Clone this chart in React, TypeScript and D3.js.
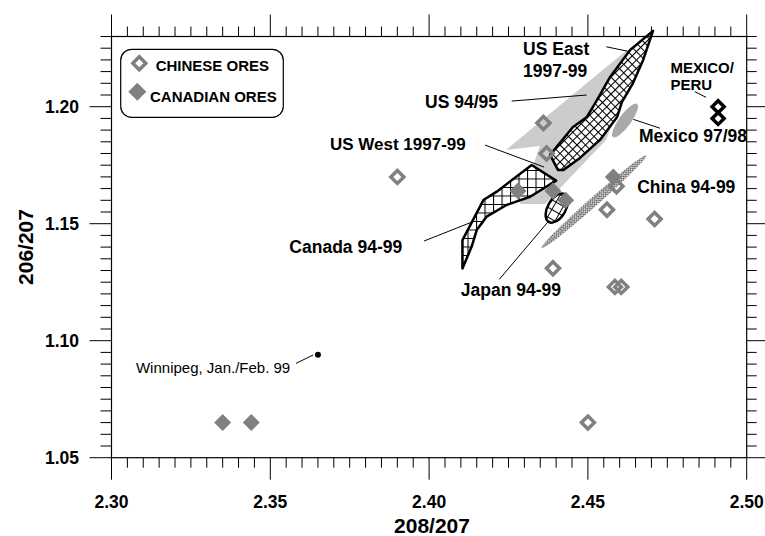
import React from "react";
import * as d3 from "d3";

// ---- data ----
const X_DOMAIN = [2.3, 2.5];
const Y_DOMAIN = [1.05, 1.23];
const X_TICK_LABELS = [2.3, 2.35, 2.4, 2.45, 2.5];
const Y_TICK_LABELS = [1.05, 1.1, 1.15, 1.2];

const CHINESE_ORES: [number, number][] = [
  [2.39, 1.17], [2.436, 1.193], [2.437, 1.18], [2.456, 1.156], [2.439, 1.131],
  [2.471, 1.152], [2.459, 1.166], [2.4585, 1.123], [2.4605, 1.123], [2.45, 1.065],
];
const CANADIAN_ORES: [number, number][] = [
  [2.335, 1.065], [2.344, 1.065], [2.428, 1.164], [2.439, 1.164], [2.443, 1.16], [2.458, 1.17],
];
const MEXICO_PERU: [number, number][] = [[2.491, 1.2], [2.491, 1.195]];
const WINNIPEG: [number, number] = [2.365, 1.094];

const US_EAST: [number, number][] = [
  [2.4705, 1.2324], [2.4674, 1.22], [2.4642, 1.2101], [2.4607, 1.202], [2.4592, 1.1956],
  [2.4538, 1.1858], [2.4475, 1.1781], [2.4422, 1.1729], [2.4406, 1.1729], [2.4381, 1.1794],
  [2.4453, 1.1913], [2.4497, 1.1956], [2.4529, 1.2029], [2.457, 1.2127], [2.4633, 1.2242],
];
const US_WEST: [number, number][] = [
  [2.4323, 1.1751], [2.44, 1.1684], [2.4318, 1.1615], [2.4244, 1.158], [2.4181, 1.153],
  [2.415, 1.1473], [2.4134, 1.1402], [2.4105, 1.1309], [2.4105, 1.143], [2.4171, 1.1601],
  [2.4213, 1.1637],
];
const US_9495: [number, number][] = [
  [2.4623, 1.2242], [2.4242, 1.1815], [2.4349, 1.1832], [2.4286, 1.1584],
  [2.4365, 1.1584], [2.4557, 1.1858], [2.4607, 1.2029],
];
// ellipse centres
const MEXICO_9798 = { cx: 2.4617, cy: 1.1941 };
const CHINA_9499 = { cx: 2.4519, cy: 1.1594 };
const JAPAN_9499 = { cx: 2.4402, cy: 1.1567 };

type Ann = { text: string; x: number; y: number; anchor: string; size: number; bold: boolean };
const LABELS: Ann[] = [
  { text: "US East", x: 2.4296, y: 1.2221, anchor: "start", size: 17.5, bold: true },
  { text: "1997-99", x: 2.4296, y: 1.2127, anchor: "start", size: 17.5, bold: true },
  { text: "US 94/95", x: 2.4217, y: 1.1994, anchor: "end", size: 17.5, bold: true },
  { text: "US West 1997-99", x: 2.3688, y: 1.1815, anchor: "start", size: 17, bold: true },
  { text: "Mexico 97/98", x: 2.4661, y: 1.185, anchor: "start", size: 17.5, bold: true },
  { text: "MEXICO/", x: 2.476, y: 1.2144, anchor: "start", size: 15, bold: true },
  { text: "PERU", x: 2.476, y: 1.2071, anchor: "start", size: 15, bold: true },
  { text: "China 94-99", x: 2.4655, y: 1.1631, anchor: "start", size: 17.5, bold: true },
  { text: "Canada 94-99", x: 2.356, y: 1.1375, anchor: "start", size: 17.5, bold: true },
  { text: "Japan 94-99", x: 2.41, y: 1.1191, anchor: "start", size: 17.5, bold: true },
  { text: "Winnipeg, Jan./Feb. 99", x: 2.3077, y: 1.0862, anchor: "start", size: 15, bold: false },
];
const LEADERS: [number, number, number, number][] = [
  [2.4558, 1.2256, 2.4633, 1.2235],
  [2.426, 1.2024, 2.4496, 1.205],
  [2.4176, 1.1836, 2.4362, 1.1742],
  [2.4643, 1.1946, 2.4727, 1.1908],
  [2.4837, 1.2064, 2.4872, 1.204],
  [2.3984, 1.1426, 2.4135, 1.1507],
  [2.4221, 1.1262, 2.4375, 1.1509],
  [2.3581, 1.0903, 2.3635, 1.0939],
];
const LEGEND = ["CHINESE ORES", "CANADIAN ORES"];

const FONT = "'Liberation Sans', Arial, Helvetica, sans-serif";
const GRAY = "#808080";

const diamond = (h: number) => `M0,${-h}L${h},0L0,${h}L${-h},0Z`;

export default function App() {
  const L = 111.5, R = 746.7, T = 36.5, B = 457.7;
  const x = d3.scaleLinear().domain(X_DOMAIN).range([L, R]);
  const y = d3.scaleLinear().domain(Y_DOMAIN).range([B, T]);
  const line = d3.line<[number, number]>().x((d) => x(d[0])).y((d) => y(d[1]));
  const fmt = d3.format(".2f");

  const xTicks = d3.range(0, 41).map((i) => ({ v: X_DOMAIN[0] + i * 0.005, major: i % 10 === 0 }));
  const yTicks = d3.range(0, 37).map((i) => ({ v: Y_DOMAIN[0] + i * 0.005, major: i % 10 === 0 }));

  return (
    <svg width={765} height={536} style={{ position: "absolute", left: 0, top: 0, background: "#fff" }} fontFamily={FONT}>
      <defs>
        <pattern id="diag" width={6} height={6} patternUnits="userSpaceOnUse" patternTransform="rotate(45)">
          <rect width={6} height={6} fill="#fff" />
          <path d="M0,0.5H6M0.5,0V6" stroke="#000" strokeWidth={1.1} />
        </pattern>
        <pattern id="grid" width={8.5} height={8.5} patternUnits="userSpaceOnUse">
          <rect width={8.5} height={8.5} fill="#fff" />
          <path d="M0,0.5H8.5M0.5,0V8.5" stroke="#000" strokeWidth={1.1} />
        </pattern>
        <pattern id="dots" width={3} height={3} patternUnits="userSpaceOnUse">
          <rect width={3} height={3} fill="#fff" />
          <circle cx={1.5} cy={1.5} r={1} fill="none" stroke="#000" strokeWidth={0.7} />
        </pattern>
      </defs>

      {/* regions */}
      <path d={line(US_9495) + "Z"} fill="#cccccc" />
      <ellipse cx={x(MEXICO_9798.cx)} cy={y(MEXICO_9798.cy)} rx={20.5} ry={6} fill="#a9a9a9"
        transform={`rotate(-54 ${x(MEXICO_9798.cx)} ${y(MEXICO_9798.cy)})`} />
      <ellipse cx={x(CHINA_9499.cx)} cy={y(CHINA_9499.cy)} rx={70} ry={4.5} fill="url(#dots)"
        transform={`rotate(-41.5 ${x(CHINA_9499.cx)} ${y(CHINA_9499.cy)})`} />
      <path d={line(US_EAST) + "Z"} fill="url(#diag)" stroke="#000" strokeWidth={2.5} strokeLinejoin="round" />
      <path d={line(US_WEST) + "Z"} fill="url(#grid)" stroke="#000" strokeWidth={2.5} strokeLinejoin="round" />
      <ellipse cx={x(JAPAN_9499.cx)} cy={y(JAPAN_9499.cy)} rx={16} ry={9} fill="url(#grid)" stroke="#000" strokeWidth={2.5}
        transform={`rotate(-60 ${x(JAPAN_9499.cx)} ${y(JAPAN_9499.cy)})`} />

      {/* points */}
      {CHINESE_ORES.map((d, i) => (
        <path key={"c" + i} d={diamond(6.5)} transform={`translate(${x(d[0])},${y(d[1])})`} fill="none" stroke={GRAY} strokeWidth={3.5} />
      ))}
      {CANADIAN_ORES.map((d, i) => (
        <path key={"k" + i} d={diamond(8.5)} transform={`translate(${x(d[0])},${y(d[1])})`} fill={GRAY} />
      ))}
      {MEXICO_PERU.map((d, i) => (
        <path key={"m" + i} d={diamond(6)} transform={`translate(${x(d[0])},${y(d[1])})`} fill="none" stroke="#000" strokeWidth={3.5} />
      ))}
      <circle cx={x(WINNIPEG[0])} cy={y(WINNIPEG[1])} r={3} fill="#000" />

      {/* leaders */}
      {LEADERS.map((l, i) => (
        <line key={"l" + i} x1={x(l[0])} y1={y(l[1])} x2={x(l[2])} y2={y(l[3])} stroke="#000" strokeWidth={1} />
      ))}
      {LABELS.map((a, i) => (
        <text key={"t" + i} x={x(a.x)} y={y(a.y)} textAnchor={a.anchor} fontSize={a.size} fontWeight={a.bold ? "bold" : "normal"}>
          {a.text}
        </text>
      ))}

      {/* frame */}
      <rect x={L} y={T} width={R - L} height={B - T} fill="none" stroke="#000" strokeWidth={1.2} />
      {xTicks.map((t, i) => (
        <g key={"xt" + i}>
          <line x1={x(t.v)} x2={x(t.v)} y1={B} y2={B + (t.major ? 22 : 10)} stroke="#000" />
          <line x1={x(t.v)} x2={x(t.v)} y1={T} y2={T - (t.major ? 22 : 10)} stroke="#000" />
        </g>
      ))}
      {yTicks.map((t, i) => (
        <g key={"yt" + i}>
          <line y1={y(t.v)} y2={y(t.v)} x1={L} x2={L - (t.major ? 22 : 11)} stroke="#000" />
          <line y1={y(t.v)} y2={y(t.v)} x1={R} x2={R + (t.major ? 22 : 10)} stroke="#000" />
        </g>
      ))}
      {X_TICK_LABELS.map((v) => (
        <text key={"xl" + v} x={x(v)} y={507.7} textAnchor="middle" fontSize={17.5} fontWeight="bold">{fmt(v)}</text>
      ))}
      {Y_TICK_LABELS.map((v) => (
        <text key={"yl" + v} x={79} y={y(v) + 6.2} textAnchor="end" fontSize={17.5} fontWeight="bold">{fmt(v)}</text>
      ))}
      <text x={432} y={533} textAnchor="middle" fontSize={21} fontWeight="bold">208/207</text>
      <text transform="translate(33,247) rotate(-90)" textAnchor="middle" fontSize={21} fontWeight="bold">206/207</text>

      {/* legend */}
      <rect x={120.7} y={49.3} width={162.6} height={68} rx={11} fill="#fff" stroke="#000" strokeWidth={1.2} />
      <path d={diamond(6.5)} transform="translate(139.3,63.3)" fill="none" stroke={GRAY} strokeWidth={3.5} />
      <text x={155.7} y={70.7} fontSize={15} fontWeight="bold">{LEGEND[0]}</text>
      <path d={diamond(9)} transform="translate(137.3,91.7)" fill={GRAY} />
      <text x={150} y={101.7} fontSize={15} fontWeight="bold">{LEGEND[1]}</text>
    </svg>
  );
}
